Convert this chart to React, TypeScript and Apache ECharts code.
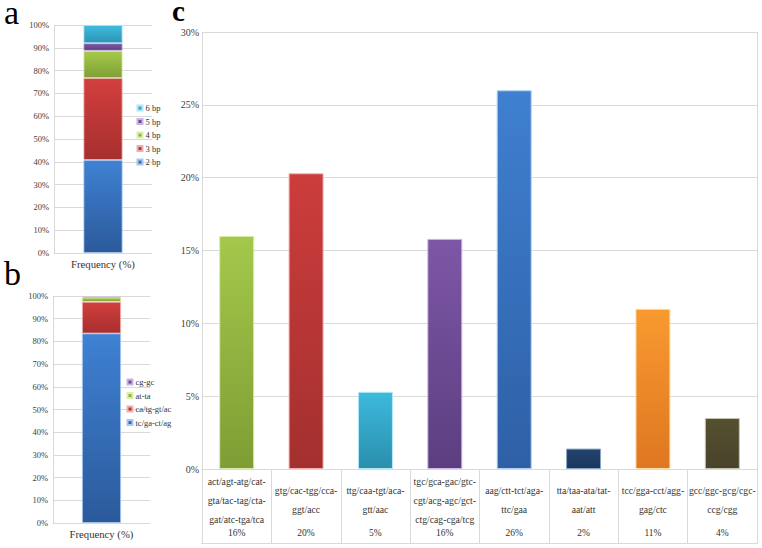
import React, { useEffect, useRef } from "react";
import * as echarts from "echarts";

// Panel a: repeat length distribution (%)
const aNames = ["2 bp", "3 bp", "4 bp", "5 bp", "6 bp"];
const aValues = [40.8, 35.9, 12.0, 3.3, 8.0];

// Panel b: dinucleotide motifs (%)
const bNames = ["tc/ga-ct/ag", "ca/tg-gt/ac", "at-ta", "cg-gc"];
const bValues = [83.5, 13.9, 1.9, 0.3];

// Panel c: trinucleotide motif groups (%)
const cCategories = [
  "act/agt-atg/cat-\ngta/tac-tag/cta-\ngat/atc-tga/tca",
  "gtg/cac-tgg/cca-\nggt/acc",
  "ttg/caa-tgt/aca-\ngtt/aac",
  "tgc/gca-gac/gtc-\ncgt/acg-agc/gct-\nctg/cag-cga/tcg",
  "aag/ctt-tct/aga-\nttc/gaa",
  "tta/taa-ata/tat-\naat/att",
  "tcc/gga-cct/agg-\ngag/ctc",
  "gcc/ggc-gcg/cgc-\nccg/cgg",
];
const cValues = [16.0, 20.3, 5.3, 15.8, 26.0, 1.4, 11.0, 3.5];
const cTableLabels = ["16%", "20%", "5%", "16%", "26%", "2%", "11%", "4%"];

const FONT = "Liberation Serif";
const GRID_COLOR = "#d9d9d9";

const grad = (top: string, bottom: string) => ({
  type: "linear",
  x: 0,
  y: 0,
  x2: 0,
  y2: 1,
  colorStops: [
    { offset: 0, color: top },
    { offset: 1, color: bottom },
  ],
});

const aColors = [
  { c: grad("#3f81d3", "#2b5a9b"), b: "#a8c8f0" },
  { c: grad("#d23f3e", "#a62f2e"), b: "#f0b0b0" },
  { c: grad("#a6ca4c", "#7f9f35"), b: "#dcefa8" },
  { c: grad("#7e58a8", "#5d3f80"), b: "#c8b4e0" },
  { c: grad("#40bde0", "#2d93b3"), b: "#b0e6f5" },
];
const bColors = [
  { c: grad("#3f81d3", "#2b5a9b"), b: "#a8c8f0" },
  { c: grad("#d23f3e", "#a62f2e"), b: "#f0b0b0" },
  { c: grad("#a6ca4c", "#7f9f35"), b: "#dcefa8" },
  { c: grad("#7e58a8", "#5d3f80"), b: "#c8b4e0" },
];
const cColors = [
  { c: grad("#a4c84b", "#7e9d34"), b: "#d9edaa" },
  { c: grad("#cc3d3c", "#a3302f"), b: "#f2b2b2" },
  { c: grad("#3cbadd", "#2b8eac"), b: "#b5e8f6" },
  { c: grad("#7d57a6", "#5c3e80"), b: "#cdbbe3" },
  { c: grad("#3f80d0", "#2e60a6"), b: "#b0d0f4" },
  { c: grad("#22446f", "#1b375c"), b: "#8aa6c8" },
  { c: grad("#f89a30", "#de7721"), b: "#fde0a8" },
  { c: grad("#55502f", "#48432a"), b: "#c8c4b0" },
];

export default function App() {
  const ref = useRef<HTMLDivElement>(null);

  useEffect(() => {
    if (!ref.current) return;
    const chart = echarts.init(ref.current, undefined, { renderer: "svg" });

    const smallY = (gridIndex: number) => ({
      type: "value",
      gridIndex,
      min: 0,
      max: 100,
      interval: 10,
      axisLabel: {
        formatter: "{value}%",
        fontFamily: FONT,
        fontSize: 8.5,
        color: "#404040",
        margin: 5,
      },
      axisLine: { show: true, lineStyle: { color: GRID_COLOR } },
      axisTick: { show: false },
      splitLine: { lineStyle: { color: GRID_COLOR } },
    });

    const smallX = (gridIndex: number) => ({
      type: "category",
      gridIndex,
      data: ["Frequency (%)"],
      axisLine: { show: true, lineStyle: { color: GRID_COLOR } },
      axisTick: { show: false },
      axisLabel: { fontFamily: FONT, fontSize: 10.7, color: "#333", margin: 5 },
    });

    const option: any = {
      animation: false,
      backgroundColor: "#ffffff",
      textStyle: { fontFamily: FONT },
      grid: [
        { left: 54, top: 25, width: 98, height: 228 },
        { left: 53, top: 296, width: 97, height: 227 },
        { left: 202, top: 32, width: 555, height: 437 },
        { left: 202, top: 526, width: 555, height: 17 },
      ],
      xAxis: [
        smallX(0),
        smallX(1),
        {
          type: "category",
          gridIndex: 2,
          data: cCategories,
          axisLine: { show: true, lineStyle: { color: GRID_COLOR } },
          axisTick: { show: true, length: 74, lineStyle: { color: GRID_COLOR } },
          axisLabel: {
            interval: 0,
            fontFamily: FONT,
            fontSize: 9.7,
            lineHeight: 19,
            color: "#333",
            verticalAlign: "middle",
            margin: 31,
          },
        },
        {
          type: "category",
          gridIndex: 3,
          position: "top",
          data: cTableLabels,
          axisLine: { show: true, lineStyle: { color: GRID_COLOR } },
          axisTick: { show: false },
          axisLabel: {
            inside: true,
            interval: 0,
            fontFamily: FONT,
            fontSize: 9.5,
            color: "#333",
            verticalAlign: "middle",
            margin: 7,
          },
        },
        {
          type: "category",
          gridIndex: 3,
          position: "bottom",
          data: cTableLabels,
          axisLine: { show: true, lineStyle: { color: GRID_COLOR } },
          axisTick: { show: false },
          axisLabel: { show: false },
        },
      ],
      yAxis: [
        smallY(0),
        smallY(1),
        {
          type: "value",
          gridIndex: 2,
          min: 0,
          max: 30,
          interval: 5,
          axisLabel: {
            formatter: "{value}%",
            fontFamily: FONT,
            fontSize: 10,
            color: "#404040",
            margin: 3,
          },
          axisLine: { show: true, lineStyle: { color: GRID_COLOR } },
          axisTick: { show: false },
          splitLine: { lineStyle: { color: GRID_COLOR } },
        },
        {
          type: "value",
          gridIndex: 2,
          position: "right",
          min: 0,
          max: 30,
          interval: 5,
          axisLabel: { show: false },
          axisLine: { show: true, lineStyle: { color: GRID_COLOR } },
          axisTick: { show: false },
          splitLine: { show: false },
        },
        { type: "value", gridIndex: 3, show: false },
      ],
      legend: [
        {
          data: [...aNames].reverse(),
          orient: "vertical",
          left: 136.5,
          top: 103.5,
          padding: 0,
          icon: "rect",
          itemWidth: 5,
          itemHeight: 5,
          itemGap: 4.5,
          textStyle: { fontFamily: FONT, fontSize: 8.5, color: "#333", lineHeight: 7, padding: [0, 0, 0, -2] },
        },
        {
          data: [...bNames].reverse(),
          orient: "vertical",
          left: 126.5,
          top: 377.5,
          padding: 0,
          icon: "rect",
          itemWidth: 5,
          itemHeight: 5,
          itemGap: 4.5,
          textStyle: { fontFamily: FONT, fontSize: 8.5, color: "#333", lineHeight: 7, padding: [0, 0, 0, -2] },
        },
      ],
      series: [
        ...aNames.map((name, i) => ({
          name,
          type: "bar",
          stack: "a",
          xAxisIndex: 0,
          yAxisIndex: 0,
          barWidth: 39,
          data: [aValues[i]],
          itemStyle: { color: aColors[i].c, borderColor: aColors[i].b, borderWidth: 0.8 },
        })),
        ...bNames.map((name, i) => ({
          name,
          type: "bar",
          stack: "b",
          xAxisIndex: 1,
          yAxisIndex: 1,
          barWidth: 39,
          data: [bValues[i]],
          itemStyle: { color: bColors[i].c, borderColor: bColors[i].b, borderWidth: 0.8 },
        })),
        {
          name: "motifs",
          type: "bar",
          xAxisIndex: 2,
          yAxisIndex: 2,
          barWidth: 35,
          data: cValues.map((v, i) => ({
            value: v,
            itemStyle: { color: cColors[i].c, borderColor: cColors[i].b, borderWidth: 1 },
          })),
        },
      ],
      graphic: [
        {
          type: "text",
          x: 4,
          y: 12,
          style: { text: "a", font: `34px ${FONT}`, lineHeight: 20, fill: "#000", verticalAlign: "middle" },
        },
        {
          type: "text",
          x: 4,
          y: 273,
          style: { text: "b", font: `34px ${FONT}`, lineHeight: 20, fill: "#000", verticalAlign: "middle" },
        },
        {
          type: "text",
          x: 172,
          y: 11,
          style: { text: "c", font: `bold 29px ${FONT}`, lineHeight: 18, fill: "#000", verticalAlign: "middle" },
        },
      ],
    };

    chart.setOption(option);
    return () => chart.dispose();
  }, []);

  return (
    <div
      ref={ref}
      style={{ position: "fixed", left: 0, top: 0, width: 762, height: 548, background: "#fff" }}
    />
  );
}
